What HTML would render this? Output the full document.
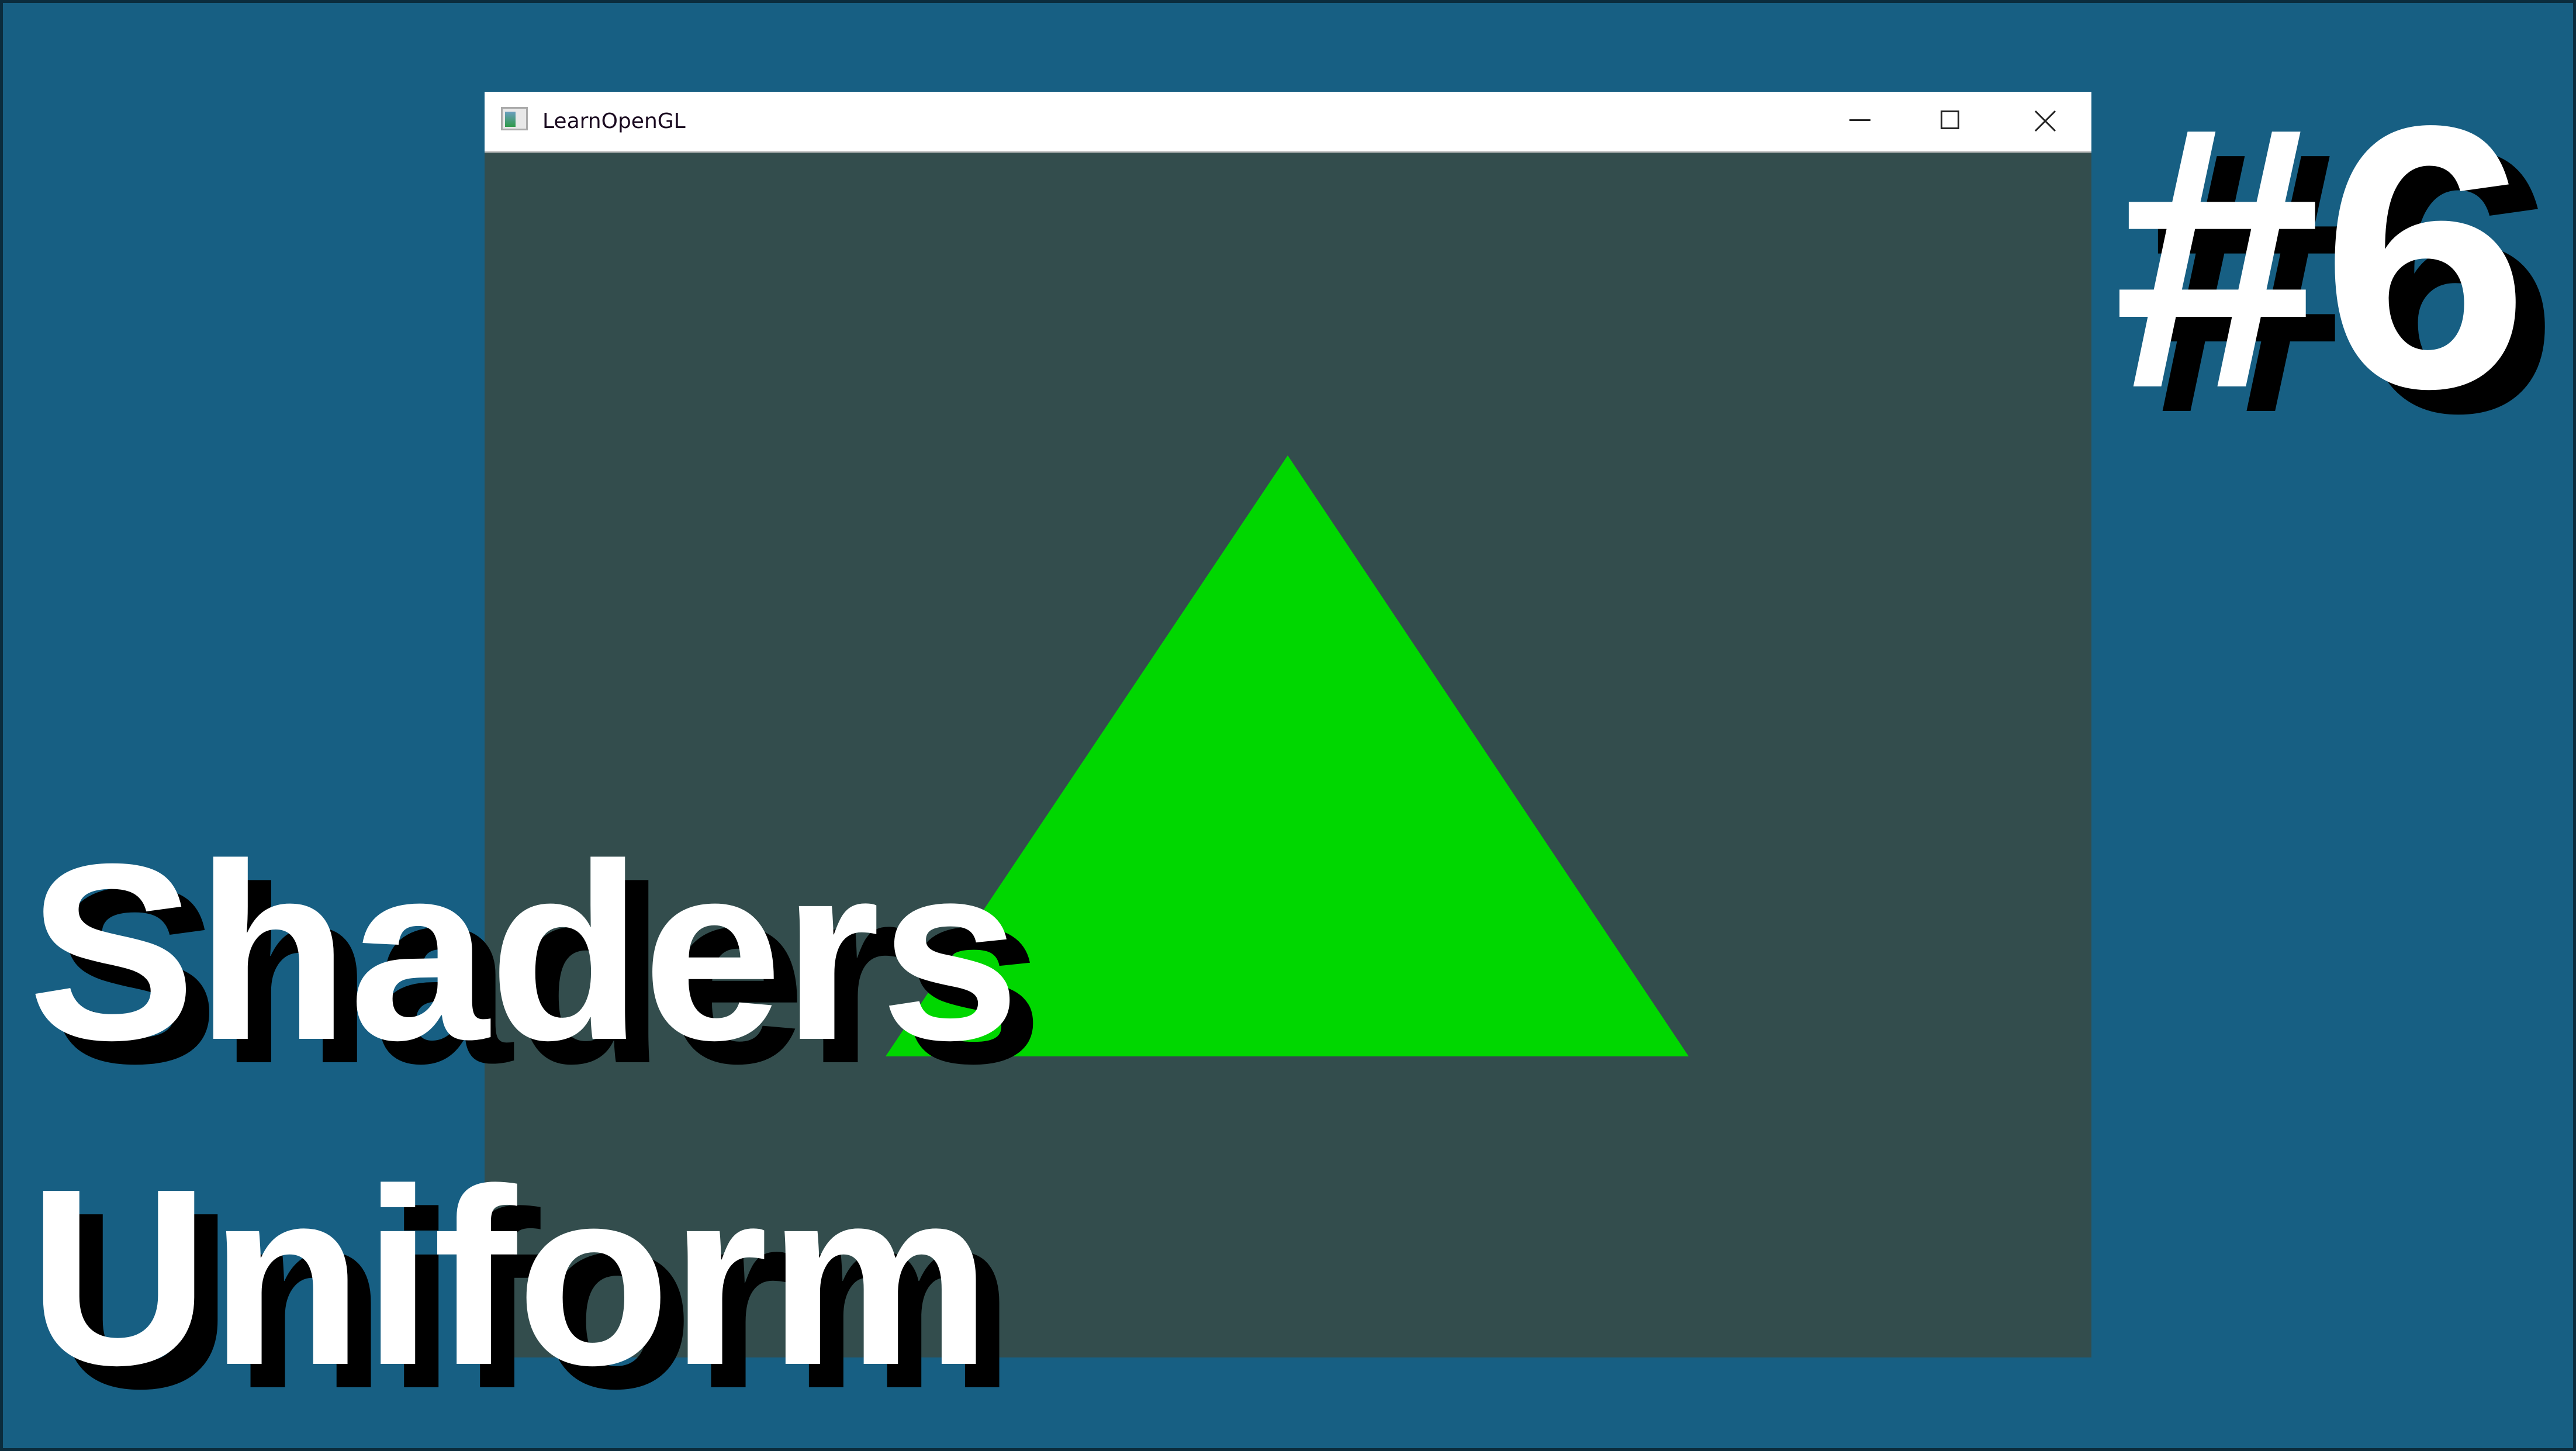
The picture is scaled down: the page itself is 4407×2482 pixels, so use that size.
<!DOCTYPE html>
<html><head><meta charset="utf-8"><style>
html,body{margin:0;padding:0}
body{width:4407px;height:2482px;position:relative;overflow:hidden;background:#175f83;font-family:"Liberation Sans",sans-serif}
.frame{position:absolute;left:0;top:0;width:4397px;height:2472px;border:5px solid #0b2c3d}
.win{position:absolute;left:829px;top:157px;width:2749px;height:2165px;background:#334d4d}
.tb{position:absolute;left:0;top:0;width:100%;height:104px;background:#fff;border-bottom:3px solid #c8c8c8;box-sizing:border-box}
.t{position:absolute;font-weight:bold;color:#fff;white-space:nowrap;line-height:1}
.s{color:#000}
</style></head><body>
<div class="frame"></div>
<div class="win">
 <div class="tb">
  <div style="position:absolute;left:28px;top:26px;width:46px;height:40px;border:3px solid #aaa;background:#e8e8e8;box-sizing:border-box"><div style="position:absolute;left:4px;top:5px;width:18px;height:26px;background:linear-gradient(#6a9ec0,#2f9a4a)"></div></div>
  <div style="position:absolute;left:99px;top:30px;font-family:'DejaVu Sans',sans-serif;font-size:36px;color:#1a0a20">LearnOpenGL</div>
  <div style="position:absolute;left:2335px;top:47px;width:36px;height:3px;background:#222"></div>
  <div style="position:absolute;left:2491px;top:32px;width:32px;height:32px;border:3px solid #222;box-sizing:border-box"></div>
  <svg style="position:absolute;left:2650px;top:30px" width="40" height="40"><path d="M3 3L37 37M37 3L3 37" stroke="#222" stroke-width="3"/></svg>
 </div>
 <svg style="position:absolute;left:0;top:0" width="2749" height="2165"><polygon points="1374,622 686,1650 2060,1650" fill="#00d700"/></svg>
</div>
<div class="t s" style="left:88px;top:1454px;font-size:430px">Shaders</div>
<div class="t" style="left:48px;top:1414px;font-size:430px">Shaders</div>
<div class="t s" style="left:88px;top:2010px;font-size:430px">Uniform</div>
<div class="t" style="left:48px;top:1970px;font-size:430px">Uniform</div>
<div class="t s" style="left:3665px;top:162px;font-size:640px">#6</div>
<div class="t" style="left:3615px;top:120px;font-size:640px">#6</div>
</body></html>
